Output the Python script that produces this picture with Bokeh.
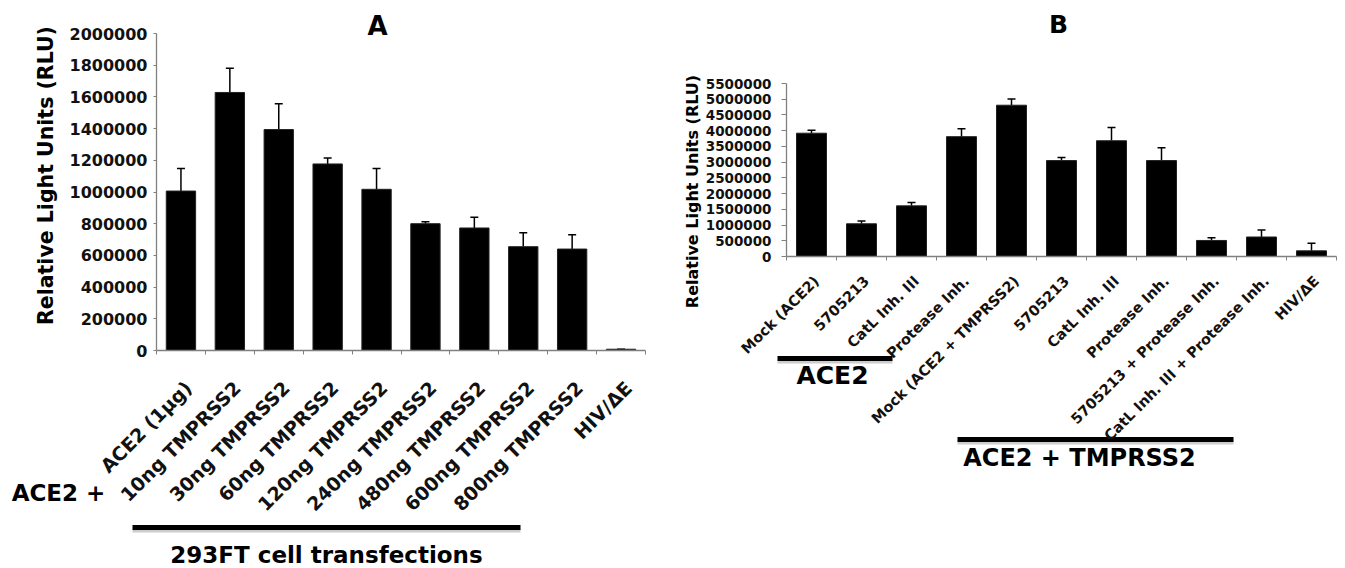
from math import pi
from bokeh.plotting import figure
from bokeh.models import (ColumnDataSource, Range1d, FixedTicker, Whisker, TeeHead,
                          Label, BasicTickFormatter)
from bokeh.layouts import row
from bokeh.embed import file_html
from bokeh.resources import INLINE

# ---------------- data ----------------
a_labels = ["ACE2 (1µg)", "10ng TMPRSS2", "30ng TMPRSS2", "60ng TMPRSS2", "120ng TMPRSS2",
            "240ng TMPRSS2", "480ng TMPRSS2", "600ng TMPRSS2", "800ng TMPRSS2", "HIV/ΔE"]
a_values = [1006000, 1628000, 1394000, 1177000, 1017000, 800000, 773000, 655000, 640000, 8000]
a_errors = [142000, 153000, 162000, 38000, 131000, 13000, 67000, 88000, 91000, 0]
a_yticks = list(range(0, 2000001, 200000))

b_labels = ["Mock (ACE2)", "5705213", "CatL Inh. III", "Protease Inh.", "Mock (ACE2 + TMPRSS2)",
            "5705213", "CatL Inh. III", "Protease Inh.", "5705213 + Protease Inh.",
            "CatL Inh. III + Protease Inh.", "HIV/ΔE"]
b_values = [3920000, 1040000, 1610000, 3810000, 4810000, 3050000, 3680000, 3050000, 510000, 620000, 180000]
b_errors = [90000, 90000, 110000, 250000, 200000, 100000, 420000, 410000, 90000, 220000, 240000]
b_yticks = list(range(0, 5500001, 500000))

FONT = "DejaVu Sans"
GREY = "#808080"
H = 568
TOP = 0  # the page template has no body margin


def bar_panel(labels, values, errors, yticks, canvas_x0, width, frame,
              ytick_size, xlab_size, xlab_standoff, shift, ytick_out, ytick_standoff):
    fl, fr, ft, fb = frame  # page pixels of the axis box
    n = len(labels)
    ymax = yticks[-1]
    xpp = n / (fr - fl)
    ypp = ymax / (fb - ft)
    x_start = -0.5 - (fl - canvas_x0) * xpp
    x_end = n - 0.5 + (canvas_x0 + width - fr) * xpp
    y_start = -(TOP + H - fb) * ypp
    y_end = ymax + (ft - TOP) * ypp
    p = figure(width=width, height=H, x_range=Range1d(x_start, x_end),
               y_range=Range1d(y_start, y_end),
               output_backend="svg", toolbar_location=None, title=None,
               min_border_left=0, min_border_right=0, min_border_top=0, min_border_bottom=0)
    p.outline_line_color = None
    p.xgrid.visible = False
    p.ygrid.visible = False
    p.background_fill_color = "white"
    p.border_fill_color = "white"

    xs = list(range(n))
    src = ColumnDataSource(dict(x=xs, top=values,
                                upper=[v + e for v, e in zip(values, errors)]))
    p.vbar(x="x", top="top", width=0.6, source=src, fill_color="black",
           line_color="#222222", line_width=1)
    p.add_layout(Whisker(source=src, base="x", upper="upper", lower="top",
                         line_color="black", line_width=1.5,
                         upper_head=TeeHead(size=8, line_width=1.5, line_color="black"),
                         lower_head=None))

    # y axis
    ya = p.yaxis[0]
    ya.fixed_location = -0.5
    ya.bounds = (0, ymax)
    ya.ticker = FixedTicker(ticks=yticks)
    ya.formatter = BasicTickFormatter(use_scientific=False)
    ya.axis_line_color = GREY
    ya.axis_line_width = 1.3
    ya.major_tick_line_color = GREY
    ya.major_tick_out = ytick_out
    ya.major_tick_in = 0
    ya.minor_tick_line_color = None
    ya.major_label_standoff = ytick_standoff
    ya.major_label_text_font = FONT
    ya.major_label_text_font_style = "bold"
    ya.major_label_text_font_size = ytick_size
    ya.major_label_text_color = "#111111"

    # x axis: ticks at category boundaries, labels under the bars
    xa = p.xaxis[0]
    xa.fixed_location = 0
    xa.bounds = (-0.5, n - 0.5)
    centers = [round(i + shift, 3) for i in xs]
    xa.ticker = FixedTicker(ticks=centers, minor_ticks=[i - 0.5 for i in range(n + 1)])
    xa.major_label_overrides = {c: l for c, l in zip(centers, labels)}
    xa.major_label_orientation = pi / 4
    xa.axis_line_color = GREY
    xa.axis_line_width = 1.3
    xa.major_tick_line_color = None
    xa.major_tick_out = 0
    xa.major_tick_in = 0
    xa.minor_tick_line_color = GREY
    xa.minor_tick_out = 4
    xa.minor_tick_in = 0
    xa.major_label_standoff = xlab_standoff
    xa.major_label_text_font = FONT
    xa.major_label_text_font_style = "bold"
    xa.major_label_text_font_size = xlab_size
    xa.major_label_text_color = "#111111"

    def to_data(px, py):
        return -0.5 + (px - fl) * xpp, (fb - py) * ypp

    def text(s, px, py, size, angle=0.0):
        x, y = to_data(px, py)
        p.add_layout(Label(x=x, y=y, text=s, angle=angle, text_align="center",
                           text_baseline="middle", text_font=FONT, text_font_style="bold",
                           text_font_size=size, text_color="black"))

    def bar_line(px0, px1, py):
        x0, y0 = to_data(px0, py + 3)
        x1, _ = to_data(px1, py + 3)
        p.segment(x0=[x0], y0=[y0], x1=[x1], y1=[y0], line_color="#cccccc", line_width=4)
        x0, y0 = to_data(px0, py)
        x1, _ = to_data(px1, py)
        p.segment(x0=[x0], y0=[y0], x1=[x1], y1=[y0], line_color="black", line_width=5)

    return p, text, bar_line


# Panel A  (axis box in page pixels: left, right, top, bottom)
pA, textA, lineA = bar_panel(a_labels, a_values, a_errors, a_yticks, 0, 680, (156, 645, 33, 350),
                             "16px", "19px", 30, 0.15, 3, 6)
textA("A", 377, 25, "26px")
textA("Relative Light Units (RLU)", 45, 175, "20.5px", pi / 2)
textA("ACE2 +", 58, 492, "23px")
lineA(132, 520, 527)
textA("293FT cell transfections", 326, 554, "23px")

# Panel B
pB, textB, lineB = bar_panel(b_labels, b_values, b_errors, b_yticks, 680, 665, (786, 1336, 83, 256),
                             "13.5px", "14.5px", 18, 0.1, 5, 10)
textB("B", 1058, 24, "25px")
textB("Relative Light Units (RLU)", 692, 191, "16px", pi / 2)
lineB(777, 892, 358)
textB("ACE2", 832, 375, "25px")
lineB(957, 1233, 439)
textB("ACE2 + TMPRSS2", 1079, 457, "24px")

layout = row(pA, pB)
open("out.html", "w").write(file_html(layout, INLINE))
